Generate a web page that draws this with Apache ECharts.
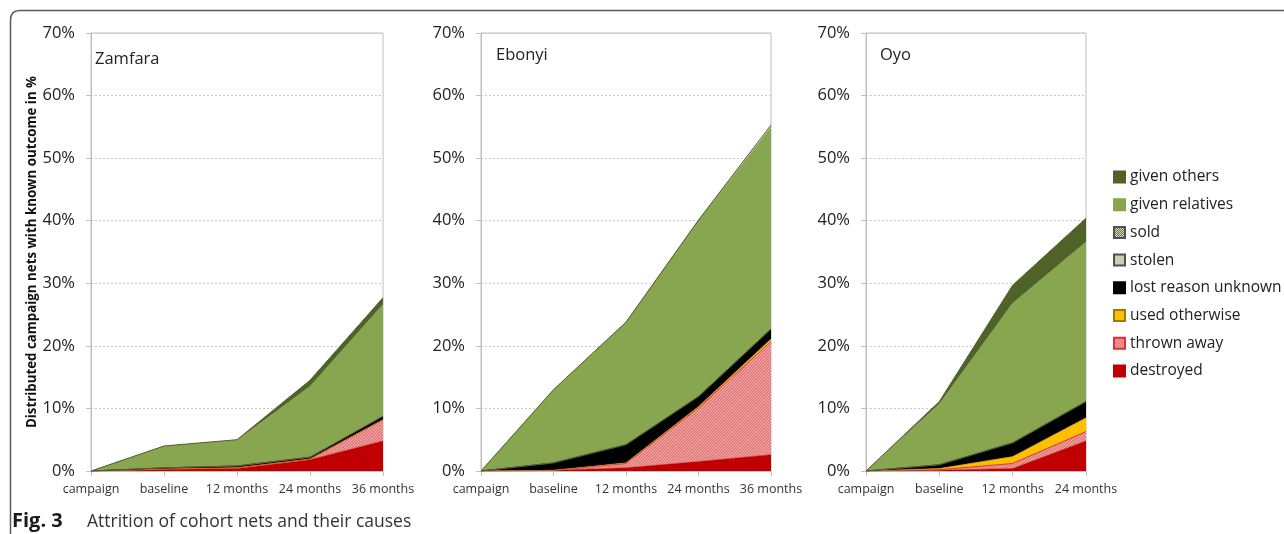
<!DOCTYPE html>
<html>
<head>
<meta charset="utf-8">
<script src="https://cdn.jsdelivr.net/npm/echarts@6/dist/echarts.min.js"></script>
<style>
  html, body { margin: 0; padding: 0; background: #fff; }
  #chart { width: 1284px; height: 534px; }
</style>
</head>
<body>
<div id="chart"></div>
<script>
// Time points for each state (Oyo was followed up to 24 months only)
const catsFull = ['campaign', 'baseline', '12 months', '24 months', '36 months'];
const catsOyo = ['campaign', 'baseline', '12 months', '24 months'];
const yTicks = [0, 10, 20, 30, 40, 50, 60, 70];

// Outcome categories, bottom of the stack first
const outcomes = ['destroyed', 'thrown away', 'used otherwise', 'lost reason unknown',
                  'stolen', 'sold', 'given relatives', 'given others'];
const legendOrder = ['given others', 'given relatives', 'sold', 'stolen',
                     'lost reason unknown', 'used otherwise', 'thrown away', 'destroyed'];

// Zamfara, % of distributed nets
const zamDestroyed = [0, 0.3, 0.4, 1.8, 4.8];
const zamThrown    = [0, 0.0, 0.1, 0.1, 3.4];
const zamUsed      = [0, 0.0, 0.0, 0.0, 0.0];
const zamLost      = [0, 0.2, 0.3, 0.3, 0.5];
const zamStolen    = [0, 0.0, 0.0, 0.0, 0.1];
const zamSold      = [0, 0.0, 0.0, 0.0, 0.0];
const zamRelatives = [0, 3.4, 4.1, 11.3, 17.8];
const zamOthers    = [0, 0.1, 0.1, 1.0, 1.1];

// Ebonyi
const ebDestroyed = [0, 0.1, 0.5, 1.5, 2.6];
const ebThrown    = [0, 0.0, 0.7, 8.6, 18.1];
const ebUsed      = [0, 0.0, 0.1, 0.2, 0.4];
const ebLost      = [0, 1.2, 2.9, 1.6, 1.6];
const ebStolen    = [0, 0.0, 0.0, 0.0, 0.0];
const ebSold      = [0, 0.0, 0.0, 0.0, 0.0];
const ebRelatives = [0, 11.6, 19.5, 28.0, 32.3];
const ebOthers    = [0, 0.1, 0.1, 0.2, 0.3];

// Oyo
const oyDestroyed = [0, 0.1, 0.4, 4.8];
const oyThrown    = [0, 0.1, 0.8, 1.5];
const oyUsed      = [0, 0.2, 1.1, 2.2];
const oyLost      = [0, 0.6, 2.2, 2.6];
const oyStolen    = [0, 0.0, 0.0, 0.0];
const oySold      = [0, 0.0, 0.0, 0.0];
const oyRelatives = [0, 9.7, 22.3, 25.5];
const oyOthers    = [0, 0.4, 2.9, 3.8];

// Small repeating fills for the hatched categories
function hatch(bg, fg) {
  const c = document.createElement('canvas');
  c.width = 3; c.height = 3;
  const g = c.getContext('2d');
  g.fillStyle = bg; g.fillRect(0, 0, 3, 3);
  g.fillStyle = fg;
  g.fillRect(0, 2, 1, 1); g.fillRect(1, 1, 1, 1); g.fillRect(2, 0, 1, 1);
  return { image: c, repeat: 'repeat' };
}
function checker(a, b) {
  const c = document.createElement('canvas');
  c.width = 2; c.height = 2;
  const g = c.getContext('2d');
  g.fillStyle = a; g.fillRect(0, 0, 2, 2);
  g.fillStyle = b; g.fillRect(0, 0, 1, 1); g.fillRect(1, 1, 1, 1);
  return { image: c, repeat: 'repeat' };
}

const style = {
  'destroyed':           { fill: '#c00000', line: '#c00000', border: '#c00000' },
  'thrown away':         { fill: hatch('#e47a7a', '#f0b0b0'), line: '#e03030', border: '#e03030' },
  'used otherwise':      { fill: '#ffc000', line: '#c89400', border: '#9a7a10' },
  'lost reason unknown': { fill: '#000000', line: '#000000', border: '#000000' },
  'stolen':              { fill: '#c4d0ae', line: '#7a8a60', border: '#505050' },
  'sold':                { fill: checker('#dfe6d0', '#5a6b3c'), line: '#5a6b3c', border: '#505050' },
  'given relatives':     { fill: '#88a54f', line: '#88a54f', border: '#88a54f' },
  'given others':        { fill: '#4f6228', line: '#4f6228', border: '#4f6228' }
};

const panels = [
  { name: 'Zamfara', cats: catsFull, left: 91, right: 901,
    data: [zamDestroyed, zamThrown, zamUsed, zamLost, zamStolen, zamSold, zamRelatives, zamOthers] },
  { name: 'Ebonyi', cats: catsFull, left: 481, right: 513,
    data: [ebDestroyed, ebThrown, ebUsed, ebLost, ebStolen, ebSold, ebRelatives, ebOthers] },
  { name: 'Oyo', cats: catsOyo, left: 866, right: 198,
    data: [oyDestroyed, oyThrown, oyUsed, oyLost, oyStolen, oySold, oyRelatives, oyOthers] }
];

const FONT = '"Open Sans", "Noto Sans", sans-serif';
const grid = [], xAxis = [], yAxis = [], series = [], title = [];

panels.forEach((p, i) => {
  grid.push({ left: p.left, right: p.right, top: 33, bottom: 63,
              show: true, borderColor: '#bfbfbf', borderWidth: 1, backgroundColor: 'transparent' });
  xAxis.push({
    type: 'category', gridIndex: i, data: p.cats, boundaryGap: false,
    axisLine: { lineStyle: { color: '#bfbfbf', width: 1 } },
    axisTick: { show: true, length: 5, alignWithLabel: true, interval: 0, lineStyle: { color: '#bfbfbf' } },
    axisLabel: { color: '#333', fontSize: 12.5, fontFamily: FONT, margin: 12, interval: 0 },
    splitLine: { show: false }
  });
  yAxis.push({
    type: 'value', gridIndex: i, min: 0, max: 70, interval: 10,
    axisLine: { show: true, lineStyle: { color: '#bfbfbf', width: 1 } },
    axisTick: { show: true, length: 5, lineStyle: { color: '#bfbfbf' } },
    axisLabel: { color: '#222', fontSize: 16.5, fontFamily: FONT, margin: 16,
                 formatter: v => yTicks.includes(v) ? v + '%' : '' },
    splitLine: { show: true, lineStyle: { color: '#c8c8c8', type: [2, 2], width: 1 } },
    name: i === 0 ? 'Distributed campaign nets with known outcome in %' : '',
    nameLocation: 'middle', nameGap: 51, nameRotate: 90,
    nameTextStyle: { color: '#111', fontSize: 13.3, fontWeight: 'bold', fontFamily: FONT }
  });
  outcomes.forEach((o, k) => {
    const s = style[o];
    series.push({
      name: o, type: 'line', xAxisIndex: i, yAxisIndex: i, stack: 'panel' + i,
      data: p.data[k], symbol: 'none', smooth: false,
      lineStyle: { color: s.line, width: (o === 'lost reason unknown' || o === 'thrown away' || o === 'given others') ? 1 : 0.6 },
      itemStyle: { color: s.fill, borderColor: s.border, borderWidth: 1 },
      areaStyle: { color: s.fill, opacity: 1 },
      emphasis: { disabled: true }
    });
  });
});

const titleText = { fontSize: 16.5, fontWeight: 'normal', color: '#222', fontFamily: FONT };
title.push(
  { text: 'Zamfara', left: 95, top: 51, padding: 0, textStyle: titleText },
  { text: 'Ebonyi', left: 496, top: 47, padding: 0, textStyle: titleText },
  { text: 'Oyo', left: 880, top: 47, padding: 0, textStyle: titleText }
);

const chart = echarts.init(document.getElementById('chart'), null, { renderer: 'canvas' });
chart.setOption({
  animation: false,
  backgroundColor: '#fff',
  title,
  grid, xAxis, yAxis, series,
  legend: {
    data: legendOrder, orient: 'vertical', left: 1108, top: 163,
    itemWidth: 11, itemHeight: 11, itemGap: 9.7, icon: 'rect',
    selectedMode: false,
    textStyle: { color: '#222', fontSize: 15.5, fontFamily: FONT, lineHeight: 18 }
  },
  graphic: [
    { type: 'polyline', silent: true,
      shape: { points: [[10.5, 534], [10.5, 20]] },
      style: { stroke: '#5a5a5a', lineWidth: 1.5, fill: null } },
    { type: 'bezierCurve', silent: true,
      shape: { x1: 10.5, y1: 20, cpx1: 10.5, cpy1: 10.5, x2: 20, y2: 10.5 },
      style: { stroke: '#5a5a5a', lineWidth: 1.5, fill: null } },
    { type: 'polyline', silent: true,
      shape: { points: [[20, 10.5], [1284, 10.5]] },
      style: { stroke: '#5a5a5a', lineWidth: 1.5, fill: null } },
    { type: 'text', left: 12, top: 511,
      style: { text: 'Fig. 3', fontSize: 20, fontWeight: 'bold', fill: '#1a1a1a', fontFamily: FONT } },
    { type: 'text', left: 87, top: 513,
      style: { text: 'Attrition of cohort nets and their causes', fontSize: 17.5, fill: '#333', fontFamily: FONT } }
  ]
});
</script>
</body>
</html>
